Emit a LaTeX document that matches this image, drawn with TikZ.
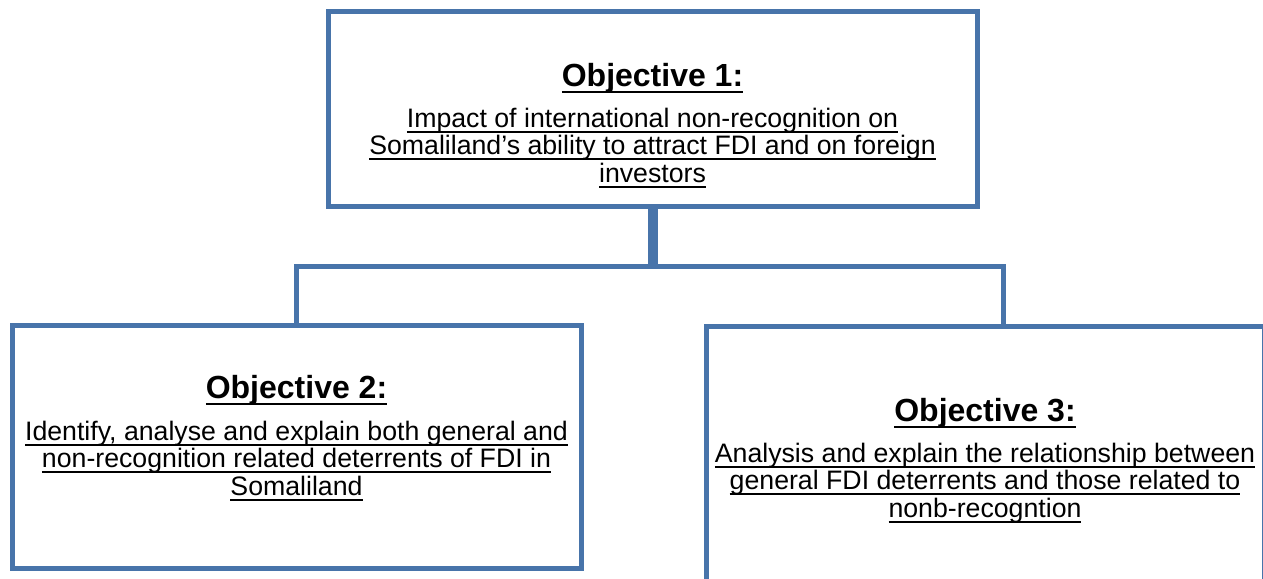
\documentclass[tikz,border=0pt]{standalone}
\usepackage{fontspec}
\setmainfont{Liberation Sans}
\usepackage{xcolor}
\usetikzlibrary{positioning}

\definecolor{boxblue}{RGB}{72,116,170}

\newsavebox{\ulbox}
\newcommand{\objtitle}[1]{\sbox{\ulbox}{#1}\usebox{\ulbox}\llap{\rule[-7.2pt]{\wd\ulbox}{2.6pt}}}
\newcommand{\objline}[1]{\sbox{\ulbox}{#1}\usebox{\ulbox}\llap{\rule[-5.6pt]{\wd\ulbox}{1.9pt}}}

\begin{document}
\begin{tikzpicture}[
    x=1pt, y=-1pt,
    objbox/.style={draw=boxblue, line width=5pt, fill=white, inner sep=0pt},
    head/.style={font=\fontsize{32}{36}\selectfont\bfseries, inner sep=0pt, anchor=base},
    body/.style={font=\fontsize{26.7}{27.7}\selectfont, align=center, inner sep=0pt, anchor=north},
    link/.style={draw=boxblue, line width=5pt}
]

\useasboundingbox (0,0) rectangle (1263,578);
\clip (0,0) rectangle (1263,578);

% Boxes
\node[objbox, minimum width=649pt, minimum height=194pt] (obj1) at (652.5,109) {};
\node[objbox, minimum width=569pt, minimum height=243pt] (obj2) at (296.5,446.5) {};
\node[objbox, minimum width=558pt, minimum height=270pt] (obj3) at (985,461) {};
\coordinate (in3) at (1003,326);

% Connectors from objective 1 down to the other two
\draw[link] ([xshift=-2.5pt]obj1.south) -- ++(0,58) -| (obj2.north);
\draw[link] ([xshift=2.5pt]obj1.south) -- ++(0,58) -| (in3);

% Texts
\node[head] (h1) at (652.5,86) {\objtitle{Objective 1:}};
\node[body] (d1) at (652.5,107.5) {\objline{Impact of international non-recognition on}\\
    \objline{Somaliland’s ability to attract FDI and on foreign}\\
    \objline{investors}};

\node[head] (h2) at (296.5,398) {\objtitle{Objective 2:}};
\node[body] (d2) at (296.5,420.5) {\objline{Identify, analyse and explain both general and}\\
    \objline{non-recognition related deterrents of FDI in}\\
    \objline{Somaliland}};

\node[head] (h3) at (985,421) {\objtitle{Objective 3:}};
\node[body] (d3) at (985,442.5) {\objline{Analysis and explain the relationship between}\\
    \objline{general FDI deterrents and those related to}\\
    \objline{nonb-recogntion}};

\end{tikzpicture}
\end{document}
